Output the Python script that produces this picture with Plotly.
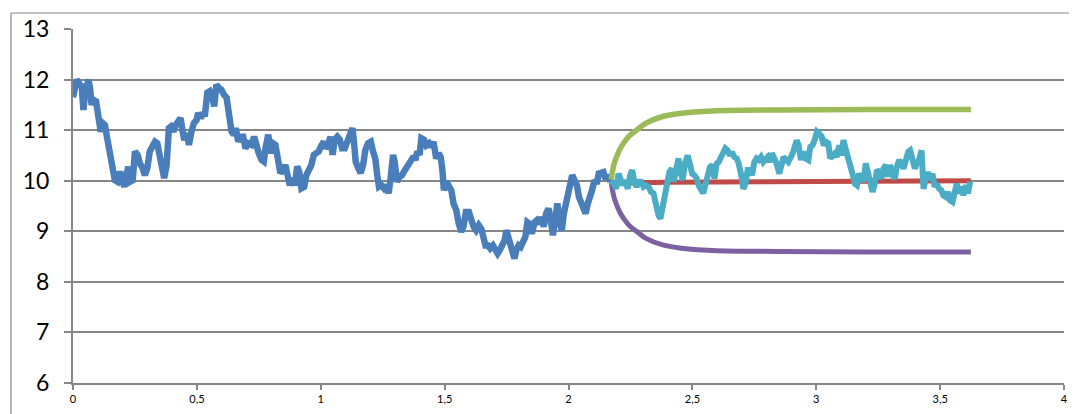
import plotly.graph_objects as go

# ---- data ----
blue_x = [0.000, 0.008, 0.015, 0.028, 0.035, 0.042, 0.048, 0.062, 0.069, 0.075, 0.082, 0.093, 0.102, 0.112,
          0.120, 0.129, 0.138, 0.149, 0.160, 0.169, 0.179, 0.190, 0.199, 0.207, 0.216, 0.223, 0.230, 0.241,
          0.250, 0.261, 0.270, 0.281, 0.290, 0.300, 0.310, 0.321, 0.331, 0.340, 0.348, 0.358, 0.368, 0.378,
          0.387, 0.395, 0.405, 0.415, 0.425, 0.434, 0.442, 0.449, 0.458, 0.468, 0.478, 0.488, 0.499, 0.505,
          0.516, 0.526, 0.532, 0.542, 0.552, 0.563, 0.570, 0.579, 0.590, 0.599, 0.609, 0.620, 0.626, 0.633,
          0.640, 0.649, 0.657, 0.667, 0.676, 0.687, 0.696, 0.707,
          0.720, 0.731, 0.741, 0.750, 0.761, 0.770, 0.777, 0.788, 0.798, 0.808, 0.817, 0.828, 0.837, 0.848,
          0.857, 0.866, 0.875, 0.884, 0.895, 0.905, 0.913, 0.922, 0.933, 0.942, 0.952, 0.962, 0.972, 0.981,
          0.992, 1.001, 1.012, 1.020, 1.030, 1.039, 1.048, 1.056, 1.067, 1.077, 1.086, 1.097, 1.103, 1.113,
          1.121, 1.128, 1.134, 1.141, 1.151, 1.161, 1.171, 1.180, 1.191, 1.202, 1.211, 1.220, 1.228, 1.235,
          1.245, 1.255, 1.265, 1.274, 1.282, 1.292, 1.298, 1.308, 1.318, 1.328, 1.336, 1.345, 1.355, 1.366,
          1.375, 1.382, 1.390, 1.399, 1.406, 1.417,
          1.426, 1.437, 1.446, 1.455, 1.466, 1.476, 1.484, 1.491, 1.497, 1.507, 1.517, 1.527, 1.536, 1.547,
          1.557, 1.567, 1.576, 1.586, 1.598, 1.607, 1.617, 1.627, 1.638, 1.648, 1.657, 1.665, 1.675, 1.684,
          1.695, 1.704, 1.714, 1.722, 1.733, 1.742, 1.749, 1.757, 1.765, 1.773, 1.782, 1.789, 1.799, 1.807,
          1.816, 1.826, 1.834, 1.843, 1.852, 1.863, 1.872, 1.883, 1.892, 1.900, 1.910, 1.919, 1.927, 1.937,
          1.946, 1.955, 1.964, 1.973, 1.981, 1.991, 2.000, 2.008, 2.015, 2.024, 2.034, 2.042, 2.051, 2.061,
          2.069, 2.078, 2.088, 2.095, 2.105, 2.114, 2.122, 2.132, 2.141, 2.149, 2.159, 2.168]
blue_y = [11.65, 11.80, 12.00, 11.90, 11.87, 11.40, 11.70, 12.00, 11.83, 11.50, 11.60, 11.57, 11.30, 10.97,
          11.14, 11.10, 10.84, 10.58, 10.38, 10.01, 9.98, 10.18, 10.01, 9.88, 10.11, 10.28, 9.98, 10.01,
          10.58, 10.51, 10.34, 10.25, 10.11, 10.25, 10.58, 10.68, 10.77, 10.74, 10.58, 10.31, 10.05, 10.31,
          11.04, 11.07, 10.97, 11.10, 11.17, 11.24, 11.00, 10.80, 10.94, 10.71, 10.97, 11.14, 11.20, 11.34,
          11.24, 11.34, 11.27, 11.74, 11.77, 11.64, 11.47, 11.90, 11.83, 11.80, 11.70, 11.64, 11.44, 11.24,
          10.97, 10.91, 11.04, 10.77, 10.87, 10.87, 10.64, 10.74,
          10.71, 10.87, 10.64, 10.54, 10.41, 10.38, 10.64, 10.91, 10.54, 10.74, 10.71, 10.44, 10.15, 10.21,
          10.31, 10.11, 9.91, 10.05, 9.91, 10.28, 10.18, 9.85, 9.88, 10.11, 10.21, 10.31, 10.51, 10.54,
          10.58, 10.68, 10.77, 10.64, 10.71, 10.87, 10.51, 10.81, 10.87, 10.81, 10.64, 10.64, 10.71, 10.81,
          10.91, 11.04, 10.77, 10.38, 10.25, 10.15, 10.31, 10.61, 10.74, 10.77, 10.58, 10.44, 10.11, 9.88,
          9.91, 9.85, 9.91, 9.75, 10.05, 10.51, 10.38, 9.98, 10.08, 10.11, 10.18, 10.25, 10.34, 10.41,
          10.48, 10.41, 10.58, 10.51, 10.84, 10.81,
          10.70, 10.74, 10.67, 10.77, 10.44, 10.54, 10.47, 10.21, 9.81, 9.98, 9.91, 9.81, 9.55, 9.42,
          9.15, 8.99, 9.09, 9.38, 9.38, 9.22, 9.09, 9.02, 9.12, 9.05, 8.85, 8.72, 8.72, 8.66,
          8.72, 8.62, 8.56, 8.62, 8.76, 8.82, 9.02, 8.85, 8.69, 8.56, 8.46, 8.62, 8.72, 8.69,
          8.82, 8.89, 9.18, 9.15, 8.95, 9.18, 9.22, 9.15, 9.28, 9.09, 9.35, 9.45, 9.28, 8.92,
          9.22, 9.55, 9.18, 9.02, 9.35, 9.61, 9.78, 9.94, 10.11, 10.01, 9.91, 9.68, 9.58, 9.45,
          9.35, 9.55, 9.78, 9.81, 10.01, 9.94, 10.14, 10.14, 10.17, 10.04, 10.11, 9.98]

cyan_x = [2.172, 2.181, 2.192, 2.202, 2.210, 2.219, 2.229, 2.239, 2.249, 2.257, 2.266, 2.275, 2.284, 2.293,
          2.303, 2.313, 2.324, 2.333, 2.343, 2.353, 2.363, 2.371, 2.380, 2.390, 2.398, 2.407, 2.417, 2.425,
          2.434, 2.444, 2.452, 2.461, 2.470, 2.481, 2.491, 2.499, 2.508, 2.518, 2.525, 2.535, 2.544, 2.552,
          2.562, 2.571, 2.580, 2.589, 2.598, 2.606, 2.616, 2.625, 2.633, 2.642, 2.652, 2.660, 2.669, 2.679,
          2.687, 2.696, 2.706, 2.714, 2.723, 2.733, 2.741, 2.750, 2.759, 2.768, 2.777, 2.786, 2.794, 2.804,
          2.813, 2.821, 2.831, 2.840, 2.851, 2.860, 2.868, 2.878, 2.887, 2.898, 2.907,
          2.921, 2.929, 2.938, 2.948, 2.958, 2.968, 2.976, 2.985, 2.995, 3.003, 3.012, 3.022, 3.030, 3.039,
          3.049, 3.056, 3.066, 3.075, 3.083, 3.093, 3.102, 3.110, 3.120, 3.129, 3.137, 3.146, 3.156, 3.164,
          3.173, 3.183, 3.190, 3.200, 3.210, 3.218, 3.227, 3.236, 3.245, 3.254, 3.263, 3.271, 3.281, 3.290,
          3.298, 3.308, 3.317, 3.325, 3.335, 3.344, 3.352, 3.362, 3.371, 3.379, 3.388, 3.398, 3.406, 3.415,
          3.425, 3.433, 3.442, 3.452, 3.460, 3.469, 3.478, 3.486, 3.496, 3.505, 3.513, 3.523, 3.532, 3.540,
          3.550, 3.559, 3.567, 3.577, 3.586, 3.594, 3.604, 3.613, 3.621]
cyan_y = [9.91, 9.98, 9.84, 10.14, 10.04, 9.91, 10.01, 9.84, 10.11, 10.21, 9.98, 9.88, 9.98, 9.98,
          9.88, 9.91, 9.88, 9.78, 9.75, 9.51, 9.32, 9.25, 9.48, 9.78, 10.01, 10.17, 10.24, 9.98,
          10.21, 10.44, 10.17, 10.01, 10.34, 10.50, 10.31, 10.14, 10.11, 10.04, 9.91, 9.84, 9.75, 9.91,
          10.08, 10.27, 10.31, 10.04, 10.34, 10.37, 10.47, 10.54, 10.64, 10.60, 10.50, 10.57, 10.47, 10.44,
          10.34, 10.14, 9.84, 9.94, 10.21, 10.21, 10.11, 10.37, 10.44, 10.41, 10.47, 10.37, 10.44, 10.47,
          10.37, 10.54, 10.44, 10.34, 10.14, 10.41, 10.47, 10.41, 10.37, 10.47, 10.57,
          10.80, 10.70, 10.41, 10.57, 10.44, 10.41, 10.67, 10.70, 10.83, 10.97, 10.93, 10.87, 10.70, 10.77,
          10.74, 10.44, 10.50, 10.54, 10.47, 10.70, 10.50, 10.80, 10.60, 10.47, 10.34, 10.14, 9.94, 9.91,
          10.14, 10.04, 9.98, 10.34, 10.11, 9.94, 9.78, 9.94, 10.21, 10.17, 10.04, 10.24, 10.31, 10.08,
          10.31, 10.11, 10.04, 10.27, 10.41, 10.34, 10.24, 10.41, 10.57, 10.60, 10.47, 10.24, 10.34, 10.41,
          10.60, 9.84, 10.04, 10.17, 10.01, 10.14, 9.88, 9.94, 9.84, 9.81, 9.71, 9.68, 9.78, 9.61,
          9.58, 9.78, 9.94, 9.75, 9.88, 9.71, 9.91, 9.75, 9.98]

red_x = [2.172, 2.400, 2.800, 3.200, 3.624]
red_y = [9.95, 9.97, 9.98, 9.99, 10.00]

band_x = [2.172, 2.185, 2.206, 2.226, 2.246, 2.280, 2.313, 2.380, 2.448, 2.582, 2.851, 3.200, 3.624]
green_y = [10.02, 10.35, 10.61, 10.77, 10.89, 11.02, 11.14, 11.27, 11.33, 11.38, 11.40, 11.41, 11.41]
purple_y = [9.98, 9.65, 9.39, 9.23, 9.11, 8.98, 8.86, 8.73, 8.67, 8.62, 8.60, 8.59, 8.59]

x_ticks = [0, 0.5, 1, 1.5, 2, 2.5, 3, 3.5, 4]
y_ticks = [6, 7, 8, 9, 10, 11, 12, 13]

GRID = "#868686"

fig = go.Figure()
fig.add_trace(go.Scatter(x=blue_x, y=blue_y, mode="lines",
                         line=dict(color="#4A7EBB", width=6.5)))
fig.add_trace(go.Scatter(x=red_x, y=red_y, mode="lines",
                         line=dict(color="#BE4B48", width=5)))
fig.add_trace(go.Scatter(x=band_x, y=green_y, mode="lines",
                         line=dict(color="#9BBB59", width=5.5, shape="spline")))
fig.add_trace(go.Scatter(x=band_x, y=purple_y, mode="lines",
                         line=dict(color="#7D60A0", width=5, shape="spline")))
fig.add_trace(go.Scatter(x=cyan_x, y=cyan_y, mode="lines",
                         line=dict(color="#4BACC6", width=6)))

# the page body has an 8px default margin, so the figure is sized to fit inside it
fig.update_layout(
    width=1069, height=406,
    margin=dict(l=65, r=13, t=21, b=31, autoexpand=False),
    paper_bgcolor="white", plot_bgcolor="white",
    showlegend=False,
    separators=", ",
    font=dict(family="Lato, Carlito, Calibri, sans-serif", color="black"),
    shapes=[
        dict(type="line", xref="paper", yref="paper", x0=-0.0626, x1=1.2, y0=1.0452, y1=1.0452,
             line=dict(color=GRID, width=1.2)),
        dict(type="line", xref="paper", yref="paper", x0=-0.0626, x1=-0.0626, y0=-0.2, y1=1.0452,
             line=dict(color=GRID, width=1.2)),
    ],
)
fig.update_xaxes(range=[0, 4], tickvals=x_ticks, showgrid=False, zeroline=False, automargin=False,
                 showline=True, linecolor=GRID, linewidth=2,
                 ticks="outside", ticklen=5, tickcolor=GRID, tickwidth=1.5,
                 tickfont=dict(size=11, color="black"))
fig.update_yaxes(range=[6, 13], tickvals=y_ticks, showgrid=True, gridcolor=GRID, gridwidth=2,
                 zeroline=False, showline=True, linecolor=GRID, linewidth=2, automargin=False,
                 ticks="outside", ticklen=7, tickcolor=GRID, tickwidth=2,
                 ticklabelstandoff=10,
                 tickfont=dict(size=23, color="black"))

fig.write_html("out.html")
